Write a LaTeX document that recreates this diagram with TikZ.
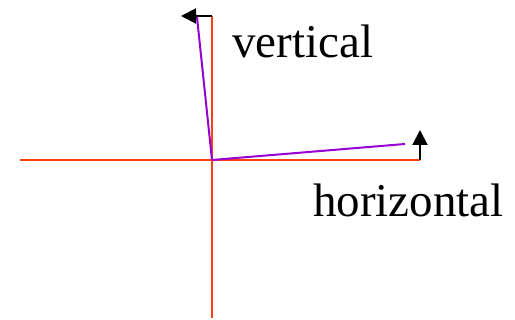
\documentclass[tikz,border=0pt]{standalone}
\usepackage{fontspec}
\setmainfont{Liberation Serif}
\usetikzlibrary{arrows.meta}
\definecolor{axisred}{RGB}{255,64,16}
\definecolor{vecpurple}{RGB}{150,0,210}
\tikzset{
  axis/.style={axisred, line width=2pt},
  vec/.style={vecpurple, line width=2pt},
  dirarrow/.style={black, line width=2pt, -{Triangle[length=15pt,width=15pt]}},
  lbl/.style={inner sep=0pt, anchor=base west, font=\fontsize{47}{52}\selectfont}
}
\begin{document}
\begin{tikzpicture}[x=1pt,y=1pt]
\useasboundingbox (0,0) rectangle (515,320);
\coordinate (O) at (212,160);
\coordinate (xl) at (20,160);
\coordinate (xr) at (420,160);
\coordinate (yt) at (212,304);
\coordinate (yb) at (212,2);
\coordinate (ph) at (405,176);
\coordinate (pv) at (197,303);
\coordinate (ah) at (420,190);
\coordinate (av) at (181,304);
\draw[axis] (xl) -- (xr);
\draw[axis] (yb) -- (yt);
\draw[vec] (O) -- (ph);
\draw[vec] (O) -- (pv);
\draw[dirarrow] (xr) -- (ah);
\draw[dirarrow] (yt) -- (av);
\node[lbl] (vt) at (232,262) {vertical};
\node[lbl] (hz) at (313,103) {horizontal};
\end{tikzpicture}
\end{document}
